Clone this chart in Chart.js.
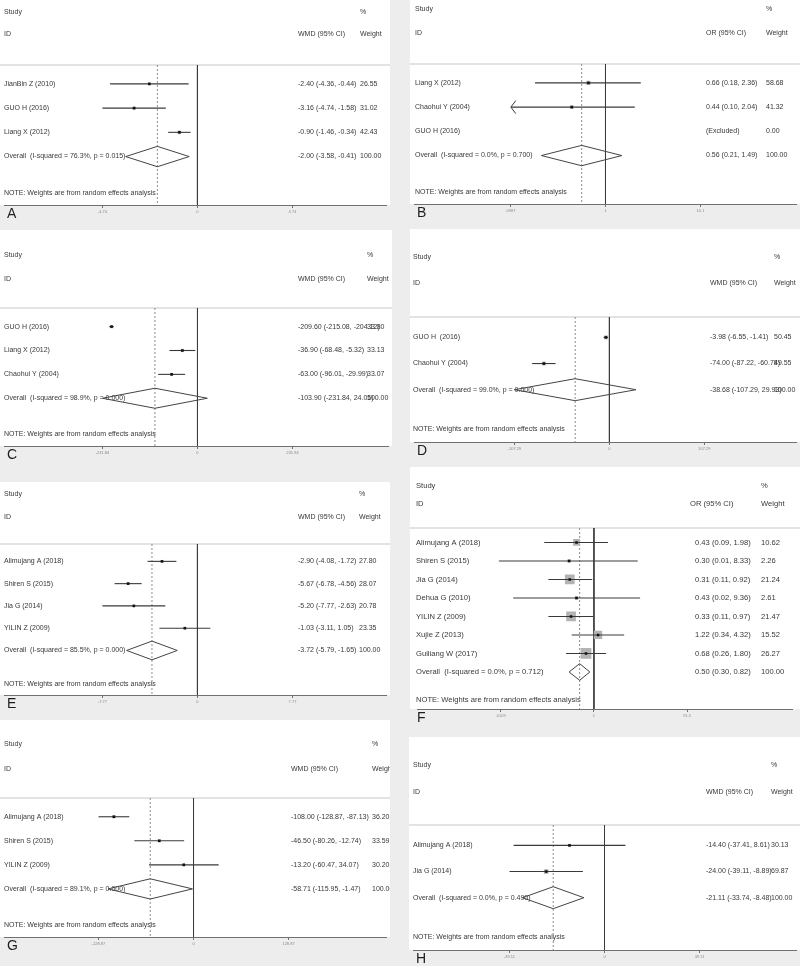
<!DOCTYPE html>
<html>
<head>
<meta charset="utf-8">
<script src="https://cdn.jsdelivr.net/npm/chart.js@4.4.1/dist/chart.umd.min.js"></script>
<style>
  html, body { margin: 0; padding: 0; background: #ededed; }
  body { position: relative; width: 800px; height: 966px; overflow: hidden; }
  canvas { position: absolute; }
</style>
</head>
<body>
<script>
// A - WMD
const studiesA = ['JianBin Z (2010)', 'GUO H (2016)', 'Liang X (2012)'];
const estA = [-2.40, -3.16, -0.90];
const lowA = [-4.36, -4.74, -1.46];
const highA = [-0.44, -1.58, -0.34];
const weightA = [26.55, 31.02, 42.43];
const overallA = [-2.00, -3.58, -0.41];
const hetA = ['76.3%', '0.015'];
const ticksA = [-4.74, 0, 4.74];

// B - OR
const studiesB = ['Liang X (2012)', 'Chaohui Y (2004)', 'GUO H (2016)'];
const estB = [0.66, 0.44, null];
const lowB = [0.18, 0.10, null];
const highB = [2.36, 2.04, null];
const weightB = [58.68, 41.32, 0.00];
const clipB = [false, true, false];
const overallB = [0.56, 0.21, 1.49];
const hetB = ['0.0%', '0.700'];
const ticksB = [0.0987, 1, 10.1];

// C - WMD
const studiesC = ['GUO H (2016)', 'Liang X (2012)', 'Chaohui Y (2004)'];
const estC = [-209.60, -36.90, -63.00];
const lowC = [-215.08, -68.48, -96.01];
const highC = [-204.12, -5.32, -29.99];
const weightC = [33.80, 33.13, 33.07];
const overallC = [-103.90, -231.84, 24.05];
const hetC = ['98.9%', '0.000'];
const ticksC = [-231.84, 0, 231.84];

// D - WMD
const studiesD = ['GUO H  (2016)', 'Chaohui Y (2004)'];
const estD = [-3.98, -74.00];
const lowD = [-6.55, -87.22];
const highD = [-1.41, -60.78];
const weightD = [50.45, 49.55];
const overallD = [-38.68, -107.29, 29.93];
const hetD = ['99.0%', '0.000'];
const ticksD = [-107.29, 0, 107.29];

// E - WMD
const studiesE = ['Alimujang A (2018)', 'Shiren S (2015)', 'Jia G (2014)', 'YILIN Z (2009)'];
const estE = [-2.90, -5.67, -5.20, -1.03];
const lowE = [-4.08, -6.78, -7.77, -3.11];
const highE = [-1.72, -4.56, -2.63, 1.05];
const weightE = [27.80, 28.07, 20.78, 23.35];
const overallE = [-3.72, -5.79, -1.65];
const hetE = ['85.5%', '0.000'];
const ticksE = [-7.77, 0, 7.77];

// F - OR
const studiesF = ['Alimujang A (2018)', 'Shiren S (2015)', 'Jia G (2014)', 'Dehua G (2010)',
  'YILIN Z (2009)', 'Xujie Z (2013)', 'Guiliang W (2017)'];
const estF = [0.43, 0.30, 0.31, 0.43, 0.33, 1.22, 0.68];
const lowF = [0.09, 0.01, 0.11, 0.02, 0.11, 0.34, 0.26];
const highF = [1.98, 8.33, 0.92, 9.36, 0.97, 4.32, 1.80];
const weightF = [10.62, 2.26, 21.24, 2.61, 21.47, 15.52, 26.27];
const overallF = [0.50, 0.30, 0.82];
const hetF = ['0.0%', '0.712'];
const ticksF = [0.0109, 1, 91.5];

// G - WMD
const studiesG = ['Alimujang A (2018)', 'Shiren S (2015)', 'YILIN Z (2009)'];
const estG = [-108.00, -46.50, -13.20];
const lowG = [-128.87, -80.26, -60.47];
const highG = [-87.13, -12.74, 34.07];
const weightG = [36.20, 33.59, 30.20];
const overallG = [-58.71, -115.95, -1.47];
const hetG = ['89.1%', '0.000'];
const ticksG = [-128.87, 0, 128.87];

// H - WMD
const studiesH = ['Alimujang A (2018)', 'Jia G (2014)'];
const estH = [-14.40, -24.00];
const lowH = [-37.41, -39.11];
const highH = [8.61, -8.89];
const weightH = [30.13, 69.87];
const overallH = [-21.11, -33.74, -8.48];
const hetH = ['0.0%', '0.490'];
const ticksH = [-39.11, 0, 39.11];

const FONT = '"Liberation Sans", Arial, sans-serif';
const TEXT = '#383838';
const TICK_PX = 97; // distance between axis ticks in pixels

const panels = [
  { letter: 'A', measure: 'WMD', log: false, studies: studiesA, est: estA, low: lowA, high: highA, weight: weightA, overall: overallA, het: hetA, ticks: ticksA,
    box: { left: 0, top: 0, width: 390, sep: 65, base: 205, bottom: 230, studyY: 12, idY: 34, nullX: 197.5, labelX: 4, ciX: 298, wX: 360 } },
  { letter: 'B', measure: 'OR', log: true, studies: studiesB, est: estB, low: lowB, high: highB, weight: weightB, clip: clipB, overall: overallB, het: hetB, ticks: ticksB,
    box: { left: 410, top: 0, width: 390, sep: 64, base: 204, bottom: 228, studyY: 9, idY: 33, nullX: 195.5, labelX: 5, ciX: 296, wX: 356 } },
  { letter: 'C', measure: 'WMD', log: false, studies: studiesC, est: estC, low: lowC, high: highC, weight: weightC, overall: overallC, het: hetC, ticks: ticksC,
    box: { left: 0, top: 230, width: 392, sep: 308, base: 446, bottom: 472, studyY: 255, idY: 279, nullX: 197.5, labelX: 4, ciX: 298, wX: 367 } },
  { letter: 'D', measure: 'WMD', log: false, studies: studiesD, est: estD, low: lowD, high: highD, weight: weightD, overall: overallD, het: hetD, ticks: ticksD,
    box: { left: 410, top: 229, width: 390, sep: 317, base: 442, bottom: 467, studyY: 257, idY: 283, nullX: 199.5, labelX: 3, ciX: 300, wX: 364 } },
  { letter: 'E', measure: 'WMD', log: false, studies: studiesE, est: estE, low: lowE, high: highE, weight: weightE, overall: overallE, het: hetE, ticks: ticksE,
    box: { left: 0, top: 482, width: 390, sep: 544, base: 695, bottom: 720, studyY: 494, idY: 517, nullX: 197.5, labelX: 4, ciX: 298, wX: 359 } },
  { letter: 'F', measure: 'OR', log: true, big: true, studies: studiesF, est: estF, low: lowF, high: highF, weight: weightF, overall: overallF, het: hetF, ticks: ticksF,
    box: { left: 410, top: 467, width: 390, sep: 528, base: 709, bottom: 737, studyY: 486, idY: 504, nullX: 183.5, labelX: 6, ciX: 285, wX: 351 } },
  { letter: 'G', measure: 'WMD', log: false, studies: studiesG, est: estG, low: lowG, high: highG, weight: weightG, overall: overallG, het: hetG, ticks: ticksG,
    box: { left: 0, top: 720, width: 390, sep: 798, base: 937, bottom: 966, studyY: 744, idY: 769, nullX: 193.5, labelX: 4, ciX: 291, wX: 372 } },
  { letter: 'H', measure: 'WMD', log: false, studies: studiesH, est: estH, low: lowH, high: highH, weight: weightH, overall: overallH, het: hetH, ticks: ticksH,
    box: { left: 409, top: 737, width: 391, sep: 825, base: 950, bottom: 966, studyY: 765, idY: 792, nullX: 195.5, labelX: 4, ciX: 297, wX: 362 } }
];

function fmtTick(v, log) {
  if (log && v < 1) return String(v).replace(/^0/, '');
  return String(v);
}

function lineSet(points, color, width, dash, order) {
  return {
    data: points, showLine: true, borderColor: color, borderWidth: width,
    borderDash: dash || [], pointRadius: 0, fill: false, tension: 0, order: order
  };
}

function textPlugin(p) {
  const b = p.box;
  const n = p.studies.length + 1;
  const size = p.big ? 7.6 : 7;
  return {
    id: 'forestText' + p.letter,
    beforeDraw(chart) {
      const ctx = chart.ctx;
      ctx.save();
      ctx.fillStyle = '#ffffff';
      ctx.fillRect(0, 0, chart.width, chart.chartArea.bottom);
      ctx.restore();
    },
    beforeDatasetsDraw(chart) {
      const ctx = chart.ctx;
      const y = chart.scales.y;
      const area = chart.chartArea;
      ctx.save();
      // separator between header and plot
      ctx.strokeStyle = '#dadada';
      ctx.lineWidth = 1.5;
      ctx.beginPath();
      ctx.moveTo(0, area.top);
      ctx.lineTo(chart.width, area.top);
      ctx.stroke();

      ctx.font = size + 'px ' + FONT;
      ctx.fillStyle = TEXT;
      ctx.textBaseline = 'middle';
      ctx.textAlign = 'left';
      ctx.fillText('Study', b.labelX, b.studyY - b.top);
      ctx.fillText('ID', b.labelX, b.idY - b.top);
      ctx.fillText('%', b.wX, b.studyY - b.top);
      ctx.fillText('Weight', b.wX, b.idY - b.top);
      ctx.fillText(p.measure + ' (95% CI)', b.ciX - (p.big ? 5 : 0), b.idY - b.top);

      p.studies.forEach((s, i) => {
        const py = y.getPixelForValue(i);
        ctx.fillText(s, b.labelX, py);
        const ci = p.est[i] == null ? '(Excluded)'
          : p.est[i].toFixed(2) + ' (' + p.low[i].toFixed(2) + ', ' + p.high[i].toFixed(2) + ')';
        ctx.fillText(ci, b.ciX, py);
        ctx.fillText(p.weight[i].toFixed(2), b.wX, py);
      });
      const oy = y.getPixelForValue(n - 1);
      ctx.fillText('Overall  (I-squared = ' + p.het[0] + ', p = ' + p.het[1] + ')', b.labelX, oy);
      ctx.fillText(p.overall[0].toFixed(2) + ' (' + p.overall[1].toFixed(2) + ', ' + p.overall[2].toFixed(2) + ')', b.ciX, oy);
      ctx.fillText('100.00', b.wX, oy);
      ctx.fillText('NOTE: Weights are from random effects analysis', b.labelX, y.getPixelForValue(n + 0.5));
      ctx.restore();
    },
    afterDraw(chart) {
      const ctx = chart.ctx;
      ctx.save();
      ctx.font = '14px ' + FONT;
      ctx.fillStyle = '#1e1e1e';
      ctx.textBaseline = 'middle';
      ctx.fillText(p.letter, 7, chart.chartArea.bottom + 9);
      ctx.restore();
    }
  };
}

panels.forEach(p => {
  const b = p.box;
  const n = p.studies.length + 1;
  const yMin = -0.78, yMax = n + 1;
  const height = b.bottom - b.top;

  const canvas = document.createElement('canvas');
  canvas.width = b.width;
  canvas.height = height;
  canvas.style.left = b.left + 'px';
  canvas.style.top = b.top + 'px';
  canvas.style.width = b.width + 'px';
  canvas.style.height = height + 'px';
  document.body.appendChild(canvas);

  // x range so that the outer ticks sit TICK_PX away from the null line
  const M = p.ticks[2];
  let xMin, xMax, shift;
  if (p.log) {
    const per = Math.log(M) / TICK_PX;
    xMin = Math.exp(-b.nullX * per);
    xMax = Math.exp((b.width - b.nullX) * per);
    shift = (v, px) => v * Math.exp(px * per);
  } else {
    const per = M / TICK_PX;
    xMin = -b.nullX * per;
    xMax = (b.width - b.nullX) * per;
    shift = (v, px) => v + px * per;
  }
  const nullV = p.log ? 1 : 0;
  const ov = p.overall;

  const datasets = [];
  datasets.push(lineSet([{ x: nullV, y: yMin }, { x: nullV, y: yMax }], '#3c3c3c', 1, null, 6));
  datasets.push(lineSet([{ x: ov[0], y: yMin }, { x: ov[0], y: yMax }], '#8c8c8c', 1, [2, 2], 6));

  const pts = [];
  const sides = [];
  p.studies.forEach((s, i) => {
    if (p.est[i] == null) return;
    datasets.push(lineSet([{ x: p.low[i], y: i }, { x: p.high[i], y: i }], '#3a3a3a', 1.1, null, 2));
    if (p.clip && p.clip[i]) {
      datasets.push(lineSet([
        { x: shift(p.low[i], 5), y: i - 0.27 },
        { x: p.low[i], y: i },
        { x: shift(p.low[i], 5), y: i + 0.27 }
      ], '#3a3a3a', 1, null, 2));
    }
    pts.push({ x: p.est[i], y: i });
    sides.push((p.big ? 2.1 : 0.55) * Math.sqrt(p.weight[i]));
  });

  // weight boxes
  datasets.push({
    data: pts, showLine: false, pointStyle: 'rect',
    pointRadius: ctx => sides[ctx.dataIndex] / Math.SQRT2,
    pointBackgroundColor: '#b3b3b3', pointBorderWidth: 0, order: 4
  });
  // point estimates
  datasets.push({
    data: pts, showLine: false, pointStyle: 'rect', pointRadius: 1.8,
    pointBackgroundColor: '#111111', pointBorderWidth: 0, order: 1
  });
  // pooled diamond
  const h = p.big ? 0.45 : 0.42;
  const r = n - 1;
  datasets.push(lineSet([
    { x: ov[1], y: r }, { x: ov[0], y: r - h }, { x: ov[2], y: r }, { x: ov[0], y: r + h }, { x: ov[1], y: r }
  ], '#444444', 1, null, 2));

  new Chart(canvas, {
    type: 'line',
    data: { datasets },
    options: {
      responsive: false,
      animation: false,
      events: [],
      layout: { padding: { top: b.sep - b.top, left: 0, right: 0, bottom: 0 } },
      plugins: { legend: { display: false }, tooltip: { enabled: false } },
      scales: {
        x: {
          type: p.log ? 'logarithmic' : 'linear',
          min: xMin, max: xMax, bounds: 'data',
          afterBuildTicks: s => { s.ticks = p.ticks.map(v => ({ value: v })); },
          afterFit: s => { s.height = b.bottom - b.base; },
          border: { display: true, color: '#707070', width: 1 },
          grid: { drawOnChartArea: false, drawTicks: true, tickLength: 3, color: '#707070' },
          ticks: {
            autoSkip: false, maxRotation: 0, minRotation: 0, padding: 1,
            font: { size: 4, family: FONT }, color: '#8a8a8a',
            callback: (v, i) => fmtTick(p.ticks[i], p.log)
          }
        },
        y: { type: 'linear', display: false, reverse: true, min: yMin, max: yMax }
      }
    },
    plugins: [textPlugin(p)]
  });
});
</script>
</body>
</html>
